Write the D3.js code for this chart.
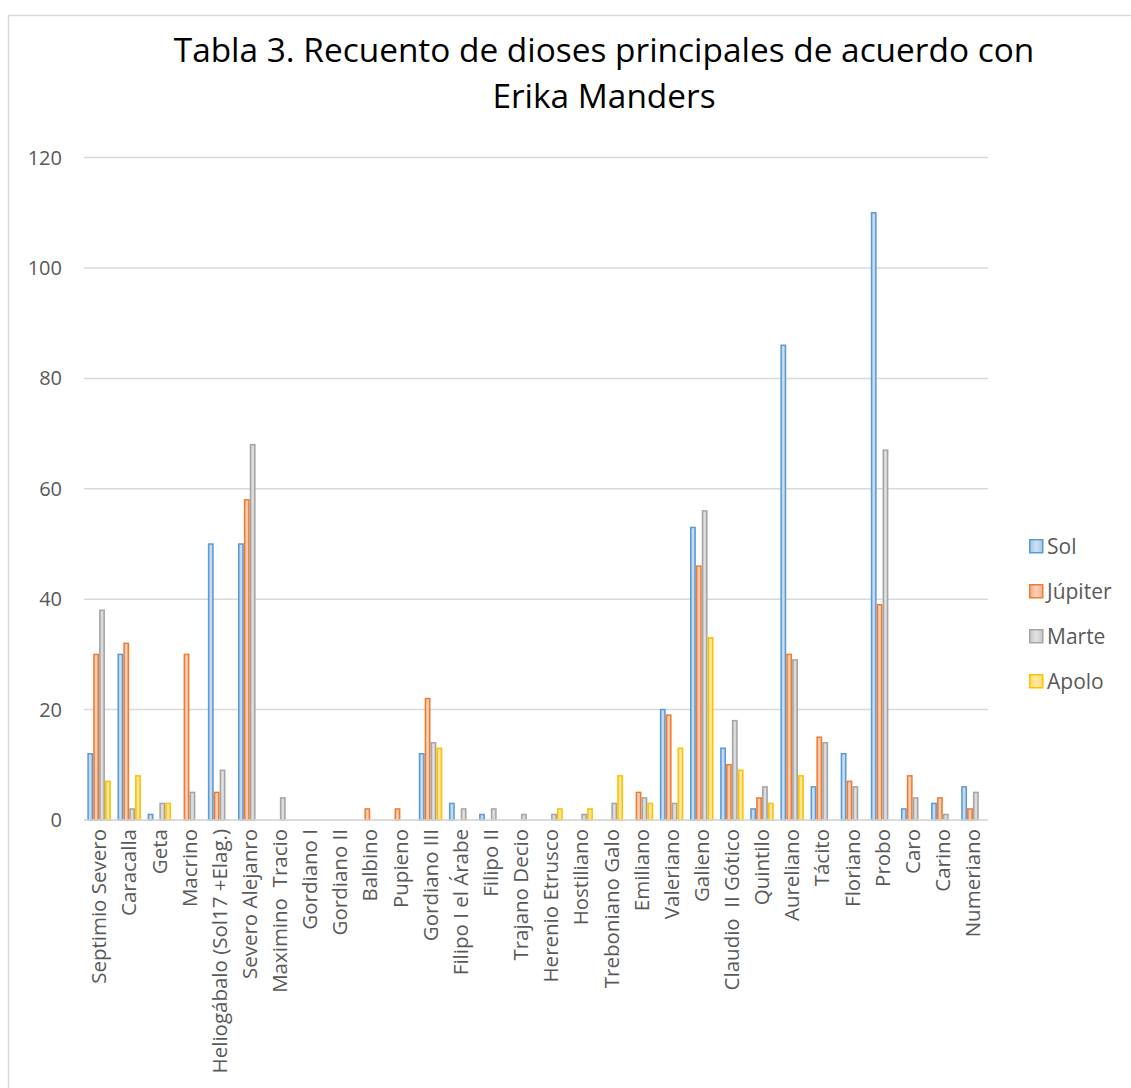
<!DOCTYPE html>
<html>
<head>
<meta charset="utf-8">
<script src="https://cdn.jsdelivr.net/npm/d3@7"></script>
<style>
  html, body { margin: 0; padding: 0; background: #fff; }
  svg { display: block; }
</style>
</head>
<body>
<svg id="chart" width="1131" height="1088"></svg>
<script>
// Emperadores (categorías del eje X)
const categories = [
  "Septimio Severo", "Caracalla", "Geta", "Macrino", "Heliogábalo (Sol17 +Elag.)",
  "Severo Alejanro", "Maximino  Tracio", "Gordiano I", "Gordiano II", "Balbino",
  "Pupieno", "Gordiano III", "Filipo I el Árabe", "Filipo II", "Trajano Decio",
  "Herenio Etrusco", "Hostiliano", "Treboniano Galo", "Emiliano", "Valeriano",
  "Galieno", "Claudio  II Gótico", "Quintilo", "Aureliano", "Tácito",
  "Floriano", "Probo", "Caro", "Carino", "Numeriano"
];

// Recuento por dios
const seriesNames = ["Sol", "Júpiter", "Marte", "Apolo"];
const sol     = [12, 30, 1, 0, 50, 50, 0, 0, 0, 0, 0, 12, 3, 1, 0, 0, 0, 0, 0, 20, 53, 13, 2, 86, 6, 12, 110, 2, 3, 6];
const jupiter = [30, 32, 0, 30, 5, 58, 0, 0, 0, 2, 2, 22, 0, 0, 0, 0, 0, 0, 5, 19, 46, 10, 4, 30, 15, 7, 39, 8, 4, 2];
const marte   = [38, 2, 3, 5, 9, 68, 4, 0, 0, 0, 0, 14, 2, 2, 1, 1, 1, 3, 4, 3, 56, 18, 6, 29, 14, 6, 67, 4, 1, 5];
const apolo   = [7, 8, 3, 0, 0, 0, 0, 0, 0, 0, 0, 13, 0, 0, 0, 2, 2, 8, 3, 13, 33, 9, 3, 8, 0, 0, 0, 0, 0, 0];
const yTicks  = [0, 20, 40, 60, 80, 100, 120];
const titleLines = ["Tabla 3. Recuento de dioses principales de acuerdo con", "Erika Manders"];

const seriesValues = [sol, jupiter, marte, apolo];
const palette = [
  { stroke: "#5B9BD5", edge: "#a6c4e6", mid: "#cfe0f3" },
  { stroke: "#ED7D31", edge: "#f5ad88", mid: "#fbd3bd" },
  { stroke: "#A5A5A5", edge: "#c6c6c6", mid: "#e2e2e2" },
  { stroke: "#FFC000", edge: "#ffd866", mid: "#ffe9a8" }
];

const svg = d3.select("#chart");
const font = "'Open Sans', 'Noto Sans', sans-serif";

// Marco exterior
svg.append("rect")
  .attr("x", 8.5).attr("y", 15.5)
  .attr("width", 1200).attr("height", 1200)
  .attr("fill", "#fff").attr("stroke", "#d9d9d9").attr("stroke-width", 1.5);

// Degradados de las barras
const defs = svg.append("defs");
palette.forEach((p, i) => {
  const g = defs.append("linearGradient")
    .attr("id", "grad" + i)
    .attr("x1", "0%").attr("x2", "100%").attr("y1", "0%").attr("y2", "0%");
  g.append("stop").attr("offset", "0%").attr("stop-color", p.edge);
  g.append("stop").attr("offset", "50%").attr("stop-color", p.mid);
  g.append("stop").attr("offset", "100%").attr("stop-color", p.edge);
});

// Título
svg.append("g").selectAll("text")
  .data(titleLines)
  .join("text")
  .attr("x", 604)
  .attr("y", (d, i) => 62 + i * 46)
  .attr("text-anchor", "middle")
  .attr("font-family", font)
  .attr("font-size", 33.4)
  .attr("fill", "#000")
  .text(d => d);

// Escalas
const plotLeft = 84, plotRight = 988, plotTop = 157.6, plotBottom = 820;
const x = d3.scaleBand().domain(categories).range([plotLeft, plotRight]).paddingInner(0).paddingOuter(0);
const groupW = x.bandwidth() * 0.78;
const xs = d3.scaleBand().domain(seriesNames).range([0, groupW]).padding(0);
const y = d3.scaleLinear().domain([0, 120]).range([plotBottom, plotTop]);

// Líneas de cuadrícula
svg.append("g").selectAll("line")
  .data(yTicks)
  .join("line")
  .attr("x1", plotLeft).attr("x2", plotRight)
  .attr("y1", d => y(d)).attr("y2", d => y(d))
  .attr("stroke", "#d9d9d9").attr("stroke-width", 1.5);

// Eje Y
const yAxis = svg.append("g")
  .attr("transform", `translate(${plotLeft - 22},0)`)
  .call(d3.axisLeft(y).tickValues(yTicks).tickSize(0).tickPadding(0));
yAxis.select(".domain").remove();
yAxis.selectAll("text")
  .attr("font-family", font).attr("font-size", 20).attr("fill", "#595959");

// Barras
const rows = [];
categories.forEach((c, ci) => {
  seriesNames.forEach((s, si) => {
    rows.push({ cat: c, series: s, si, value: seriesValues[si][ci] });
  });
});
const off = (x.bandwidth() - groupW) / 2;
svg.append("g").selectAll("rect")
  .data(rows.filter(d => d.value > 0))
  .join("rect")
  .attr("x", d => x(d.cat) + off + xs(d.series) + 0.75)
  .attr("width", xs.bandwidth() - 1.5)
  .attr("y", d => y(d.value))
  .attr("height", d => y(0) - y(d.value))
  .attr("fill", d => `url(#grad${d.si})`)
  .attr("stroke", d => palette[d.si].stroke)
  .attr("stroke-width", 1.5);

// Eje X: línea base y etiquetas giradas
svg.append("line")
  .attr("x1", plotLeft).attr("x2", plotRight)
  .attr("y1", plotBottom).attr("y2", plotBottom)
  .attr("stroke", "#d9d9d9").attr("stroke-width", 1.5);

const xAxis = svg.append("g")
  .attr("transform", `translate(0,${plotBottom})`)
  .call(d3.axisBottom(x).tickSize(0).tickPadding(0));
xAxis.select(".domain").remove();
xAxis.selectAll("text")
  .attr("font-family", font).attr("font-size", 20.5).attr("fill", "#595959")
  .style("white-space", "pre")
  .attr("text-anchor", "end")
  .attr("dy", "0.35em")
  .attr("transform", "translate(0,9) rotate(-90)")
  .attr("y", 0).attr("x", 0);

// Leyenda
const legend = svg.append("g").selectAll("g")
  .data(seriesNames)
  .join("g")
  .attr("transform", (d, i) => `translate(1029,${539 + i * 45})`);
legend.append("rect")
  .attr("x", 0.75).attr("y", 0.75)
  .attr("width", 13).attr("height", 13)
  .attr("fill", (d, i) => `url(#grad${i})`)
  .attr("stroke", (d, i) => palette[i].stroke)
  .attr("stroke-width", 1.5);
legend.append("text")
  .attr("x", 18).attr("y", 7.5).attr("dy", "0.35em")
  .attr("font-family", font).attr("font-size", 21).attr("fill", "#595959")
  .text(d => d);
</script>
</body>
</html>
